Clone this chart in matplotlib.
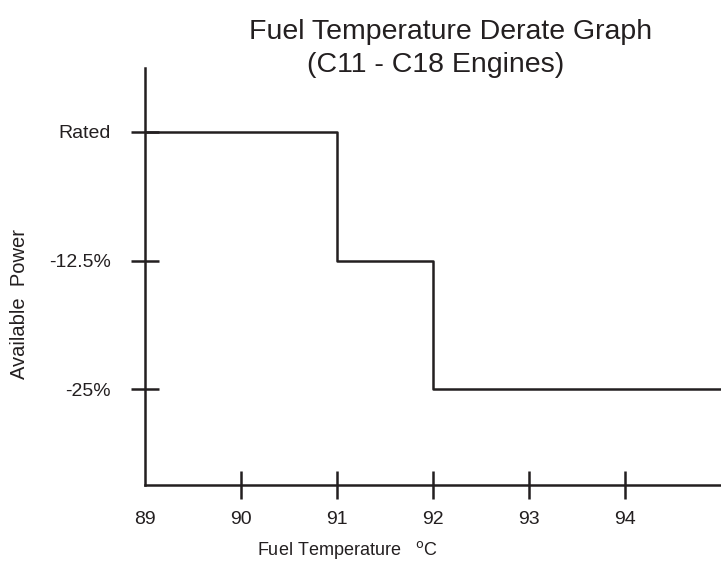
import matplotlib.pyplot as plt

plt.rcParams['font.family'] = ['Liberation Sans', 'DejaVu Sans']

# derate steps: power held at each level from that temperature on
temp_steps = [89, 91, 92, 95]
power_steps = [0, -12.5, -25, -25]

x_ticks = [89, 90, 91, 92, 93, 94]
y_ticks = [0, -12.5, -25]
y_tick_labels = ['Rated', '-12.5%', '-25%']

ink = '#231f20'

fig = plt.figure(figsize=(7.21, 5.61), dpi=100)
ax = fig.add_axes([0.2011, 0.1355, 0.7989, 0.7433])

ax.plot(temp_steps, power_steps, drawstyle='steps-post', color=ink, linewidth=1.8)

ax.set_xlim(89, 95)
ax.set_ylim(-34.3, 6.2)

for side in ['top', 'right']:
    ax.spines[side].set_visible(False)
for side in ['left', 'bottom']:
    ax.spines[side].set_linewidth(1.8)
    ax.spines[side].set_color(ink)

ax.set_xticks(x_ticks)
ax.set_xticklabels([str(t) for t in x_ticks])
ax.set_yticks(y_ticks)
ax.set_yticklabels(y_tick_labels)
ax.tick_params(axis='both', direction='inout', length=19.5, width=1.8, color=ink,
               labelsize=14, labelcolor=ink)
ax.tick_params(axis='x', pad=9)
ax.tick_params(axis='y', pad=15)
ax.xaxis.get_major_ticks()[0].tick1line.set_visible(False)

ax.set_xlabel(r'Fuel Temperature   $^{\mathrm{o}}$C', fontsize=13, color=ink, va='center')
ax.xaxis.set_label_coords(0.352, -0.155)
ax.set_ylabel('Available  Power', fontsize=14.5, color=ink, va='center')
ax.yaxis.set_label_coords(-0.217, 0.434)

fig.text(451 / 721, 1 - 32 / 561, 'Fuel Temperature Derate Graph', ha='center', va='center',
         fontsize=20.5, color=ink)
fig.text(436 / 721, 1 - 65 / 561, '(C11 - C18 Engines)', ha='center', va='center',
         fontsize=20.5, color=ink)

fig.savefig('out.png', dpi=100)
